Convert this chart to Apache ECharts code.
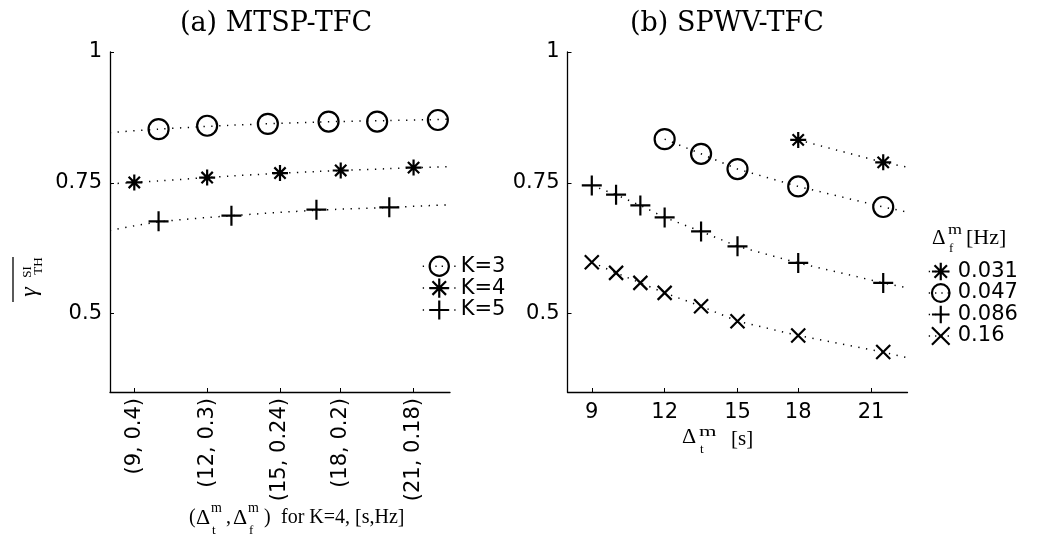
<!DOCTYPE html>
<html>
<head>
<meta charset="utf-8">
<script src="https://cdn.jsdelivr.net/npm/echarts@6/dist/echarts.min.js"></script>
<style>
  html, body { margin: 0; padding: 0; background: #fff; }
  #main { width: 1045px; height: 544px; }
</style>
</head>
<body>
<div id="main"></div>
<script>
// ticks shared by both panels (tick positions on the axis scale, and their labels)
const tickPos = [9, 12, 15, 17.5, 20.5];
const tickLabelsA = ['(9, 0.4)', '(12, 0.3)', '(15, 0.24)', '(18, 0.2)', '(21, 0.18)'];
const tickLabelsB = ['9', '12', '15', '18', '21'];
const yTicks = [0.5, 0.75, 1];

// (a) MTSP-TFC markers
const k3X = [10, 12, 14.5, 17, 19, 21.5];
const k3Y = [0.8525, 0.859, 0.8626, 0.867, 0.867, 0.870];
const k4X = [9, 12, 15, 17.5, 20.5];
const k4Y = [0.7506, 0.760, 0.7686, 0.7735, 0.779];
const k5X = [10, 13, 16.5, 19.5];
const k5Y = [0.6762, 0.687, 0.6985, 0.703];
// (a) fitted dotted curves
const fitX = [8, 10, 13, 16.5, 19.5, 22];
const fitK3 = [0.846, 0.8525, 0.860, 0.866, 0.869, 0.8715];
const fitK4 = [0.748, 0.7535, 0.763, 0.7715, 0.777, 0.781];
const fitK5 = [0.659, 0.675, 0.687, 0.6975, 0.703, 0.708];

// (b) SPWV-TFC
const dtB = [9, 10, 11, 12, 13.5, 15, 17.5, 21];
const f031X = [17.5, 21];
const f031Y = [0.832, 0.789];
const f047X = [12, 13.5, 15, 17.5, 21];
const f047Y = [0.8334, 0.8054, 0.7762, 0.743, 0.7037];
const f086Y = [0.745, 0.7272, 0.7067, 0.6838, 0.657, 0.6285, 0.5968, 0.5586];
const f16Y = [0.598, 0.5777, 0.5586, 0.5395, 0.514, 0.4854, 0.458, 0.4263];
// where the dotted lines leave the axes
const tailX = 22;
const tailY = [0.78, 0.694, 0.549, 0.4156];

const kNames = ['K=3', 'K=4', 'K=5'];
const dfNames = ['0.031', '0.047', '0.086', '0.16'];

const CIRCLE = 'path://M20,10A10,10 0 1 1 0,10A10,10 0 1 1 20,10Z';
const STAR = 'path://M10,0L10,20M0,10L20,10M2.93,2.93L17.07,17.07M2.93,17.07L17.07,2.93';
const PLUS = 'path://M0,10L20,10M10,0L10,20';
const CROSS = 'path://M0,0L20,20M0,20L20,0';

const sans = 'DejaVu Sans';
const serif = 'Liberation Serif';
const dots = { color: '#000', width: 1.5, type: [1.3, 6.5] };
const mark = { color: 'transparent', borderColor: '#000', borderWidth: 2.2, opacity: 1 };

const zip = (xs, ys) => xs.map((x, i) => [x, ys[i]]);

let myChart = echarts.init(document.getElementById('main'));

function fitLine(name, ys, sym, size) {
    return {
        name: name, type: 'line', xAxisIndex: 0, yAxisIndex: 0,
        data: zip(fitX, ys), smooth: 0.3, showSymbol: false,
        symbol: sym, symbolSize: size,
        lineStyle: dots, itemStyle: mark, silent: true
    };
}
function marks(xs, ys, sym, size) {
    return {
        type: 'scatter', xAxisIndex: 0, yAxisIndex: 0,
        data: zip(xs, ys), symbol: sym, symbolSize: size,
        itemStyle: mark, silent: true
    };
}
function rightLine(name, xs, ys, tail, sym, size) {
    let d = zip(xs, ys);
    d.push({ value: [tailX, tail], symbol: 'none' });
    return {
        name: name, type: 'line', xAxisIndex: 1, yAxisIndex: 1,
        data: d, symbol: sym, symbolSize: size, showSymbol: true,
        lineStyle: dots, itemStyle: mark, silent: true
    };
}

function xAxisOf(grid, labels, rotate, margin) {
    return {
        type: 'value', gridIndex: grid, min: 8, max: 22,
        axisLine: { show: true, lineStyle: { color: '#000', width: 1.3 } },
        axisTick: { show: true, inside: true, length: 4, customValues: tickPos, lineStyle: { color: '#000' } },
        axisLabel: {
            customValues: tickPos, rotate: rotate, margin: margin,
            color: '#000', fontFamily: sans, fontSize: 21,
            formatter: v => labels[tickPos.indexOf(v)]
        },
        splitLine: { show: false }
    };
}
function yAxisOf(grid) {
    return {
        type: 'value', gridIndex: grid, min: 0.35, max: 1,
        axisLine: { show: true, lineStyle: { color: '#000', width: 1.3 } },
        axisTick: { show: true, inside: true, length: 4, customValues: yTicks, lineStyle: { color: '#000' } },
        axisLabel: { customValues: yTicks, margin: 8, color: '#000', fontFamily: sans, fontSize: 21 },
        splitLine: { show: false }
    };
}
function legendOf(names, left, top, w, h) {
    return {
        data: names, orient: 'vertical', left: left, top: top,
        itemWidth: w, itemHeight: h, itemGap: 0.5, padding: 0, selectedMode: false,
        textStyle: { color: '#000', fontFamily: sans, fontSize: 21 },
        lineStyle: { color: '#000', width: 1.5, type: [1.3, 5], opacity: 1 },
        itemStyle: { color: 'transparent', borderColor: '#000', borderWidth: 2.2, opacity: 1 }
    };
}
function txt(x, y, text, size, extra) {
    extra = extra || {};
    return {
        type: 'text', x: x, y: y, rotation: extra.rot || 0, scaleX: extra.sx || 1, silent: true,
        style: {
            text: text, fill: '#000',
            font: (extra.style || '') + ' ' + size + 'px "' + (extra.family || serif) + '"',
            align: extra.align || 'left', textAlign: extra.align || 'left',
            verticalAlign: 'middle', textVerticalAlign: 'middle'
        }
    };
}

let option = {
    backgroundColor: '#fff',
    animation: false,
    grid: [
        { left: 110, top: 52, width: 340, height: 340 },
        { left: 567.5, top: 52, width: 340, height: 340 }
    ],
    xAxis: [xAxisOf(0, tickLabelsA, 90, 6), xAxisOf(1, tickLabelsB, 0, 10)],
    yAxis: [yAxisOf(0), yAxisOf(1)],
    legend: [
        legendOf(kNames, 422, 255.5, 33, 24),
        legendOf(dfNames, 928, 261, 24, 22)
    ],
    series: [
        fitLine(kNames[0], fitK3, CIRCLE, 20),
        fitLine(kNames[1], fitK4, STAR, 16),
        fitLine(kNames[2], fitK5, PLUS, 20),
        marks(k3X, k3Y, CIRCLE, 20),
        marks(k4X, k4Y, STAR, 16),
        marks(k5X, k5Y, PLUS, 20),
        rightLine(dfNames[0], f031X, f031Y, tailY[0], STAR, 16),
        rightLine(dfNames[1], f047X, f047Y, tailY[1], CIRCLE, 20),
        rightLine(dfNames[2], dtB, f086Y, tailY[2], PLUS, 20),
        rightLine(dfNames[3], dtB, f16Y, tailY[3], CROSS, 14)
    ],
    graphic: [
        // titles
        txt(276, 24, '(a) MTSP-TFC', 27, { family: 'DejaVu Serif', align: 'center' }),
        txt(727, 24, '(b) SPWV-TFC', 27, { family: 'DejaVu Serif', align: 'center' }),
        // y label: overline gamma, SI over TH
        { type: 'line', silent: true, shape: { x1: 13, y1: 257, x2: 13, y2: 302 }, style: { stroke: '#000', lineWidth: 1.3 } },
        txt(30, 292, 'γ', 24, { style: 'italic', align: 'center', rot: Math.PI / 2 }),
        txt(28, 272, 'SI', 13, { align: 'center', rot: Math.PI / 2 }),
        txt(39, 266, 'TH', 13, { align: 'center', rot: Math.PI / 2 }),
        // left x name
        txt(189, 518, '(', 20),
        txt(196, 518, 'Δ', 22),
        txt(211, 508, 'm', 14),
        txt(212, 531, 't', 13),
        txt(226, 518, ',', 20),
        txt(233, 518, 'Δ', 22),
        txt(248, 508, 'm', 14),
        txt(249, 531, 'f', 13),
        txt(264, 518, ')', 20),
        txt(281, 518, 'for K=4, [s,Hz]', 20),
        // right x name
        txt(682, 437, 'Δ', 22),
        txt(699, 432, 'm', 15, { sx: 1.5 }),
        txt(700, 450, 't', 13),
        txt(731, 439, '[s]', 21),
        // right legend title
        txt(932, 238, 'Δ', 21),
        txt(948, 230, 'm', 15, { sx: 1.2 }),
        txt(949, 249, 'f', 13),
        txt(966, 238, '[Hz]', 22)
    ]
};

myChart.setOption(option);
</script>
</body>
</html>
